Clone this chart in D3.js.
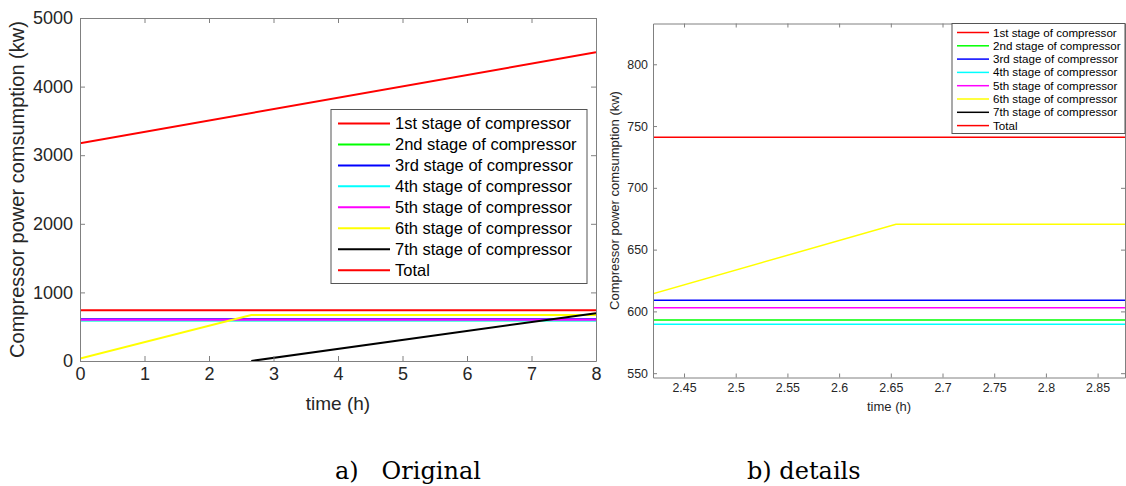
<!DOCTYPE html>
<html><head><meta charset="utf-8">
<script src="https://cdn.jsdelivr.net/npm/d3@7"></script>
<style>body{margin:0;background:#fff;} svg{display:block;}</style>
</head><body>
<svg id="c" width="1126" height="486"></svg>
<script>
// ---- data ----
const seriesNames = ["1st stage of compressor","2nd stage of compressor","3rd stage of compressor","4th stage of compressor","5th stage of compressor","6th stage of compressor","7th stage of compressor","Total"];
const seriesColors = ["#ff0000","#00ff00","#0000ff","#00ffff","#ff00ff","#ffff00","#000000","#ff0000"];
const stage1 = [[0,741],[8,741]];
const stage2 = [[0,593],[8,593]];
const stage3 = [[0,609],[8,609]];
const stage4 = [[0,589.5],[8,589.5]];
const stage5 = [[0,603],[8,603]];
const stage6 = [[0,36],[2.655,670.5],[8,670.5]];
const stage7 = [[2.655,0],[8,698]];
const total  = [[0,3175],[8,4500]];
const allSeries = [stage1,stage2,stage3,stage4,stage5,stage6,stage7,total];
const xTicksA = [0,1,2,3,4,5,6,7,8];
const yTicksA = [0,1000,2000,3000,4000,5000];
const xTicksB = [2.45,2.5,2.55,2.6,2.65,2.7,2.75,2.8,2.85];
const yTicksB = [550,600,650,700,750,800];
const captions = ["a)   Original","b) details"];

const svg = d3.select("#c");
const font = "'Liberation Sans', Arial, Helvetica, sans-serif";

function panel(opt){
  const g = svg.append("g");
  const x = d3.scaleLinear().domain(opt.xd).range([opt.x0,opt.x1]);
  const y = d3.scaleLinear().domain(opt.yd).range([opt.y1,opt.y0]);
  const clipId = "clip"+opt.id;
  svg.append("clipPath").attr("id",clipId).append("rect")
    .attr("x",opt.x0).attr("y",opt.y0).attr("width",opt.x1-opt.x0).attr("height",opt.y1-opt.y0);
  // lines
  const line = d3.line().x(d=>x(d[0])).y(d=>y(d[1]));
  const lg = g.append("g").attr("clip-path",`url(#${clipId})`);
  allSeries.forEach((s,i)=>{
    lg.append("path").attr("d",line(s)).attr("fill","none")
      .attr("stroke",seriesColors[i]).attr("stroke-width",opt.lw);
  });
  // axes (box, inward ticks)
  const ax = g.append("g").attr("font-family",font).attr("font-size",opt.tickFs).attr("fill","#262626");
  const axisStroke = "#808080";
  const bottom = d3.axisBottom(x).tickValues(opt.xt).tickSizeInner(-opt.tl).tickSizeOuter(0).tickPadding(opt.xpad).tickFormat(d3.format(opt.xfmt));
  const top = d3.axisTop(x).tickValues(opt.xt).tickSizeInner(-opt.tl).tickSizeOuter(0).tickFormat("");
  const left = d3.axisLeft(y).tickValues(opt.yt).tickSizeInner(-opt.tl).tickSizeOuter(0).tickPadding(opt.ypad).tickFormat(d3.format("d"));
  const right = d3.axisRight(y).tickValues(opt.yt).tickSizeInner(-opt.tl).tickSizeOuter(0).tickFormat("");
  [[bottom,`translate(0,${opt.y1})`],[top,`translate(0,${opt.y0})`],[left,`translate(${opt.x0},0)`],[right,`translate(${opt.x1},0)`]].forEach(([a,t])=>{
    const gg = g.append("g").attr("transform",t).call(a);
    gg.selectAll(".domain").attr("stroke",axisStroke).attr("stroke-width",1);
    gg.selectAll(".tick line").attr("stroke",axisStroke);
    gg.selectAll("text").attr("font-family",font).attr("font-size",opt.tickFs).attr("fill","#262626");
  });
  // labels
  g.append("text").attr("x",(opt.x0+opt.x1)/2+opt.xlDx).attr("y",opt.xlY).attr("text-anchor","middle")
    .attr("font-family",font).attr("font-size",opt.labFs).attr("fill","#262626").text("time (h)");
  g.append("text").attr("transform",`translate(${opt.ylX},${(opt.y0+opt.y1)/2}) rotate(-90)`)
    .attr("text-anchor","middle").attr("font-family",font).attr("font-size",opt.ylFs).attr("fill","#262626")
    .text("Compressor power comsumption (kw)");
  // legend
  const L = opt.leg;
  const lgd = g.append("g");
  lgd.append("rect").attr("x",L.x).attr("y",L.y).attr("width",L.w).attr("height",L.h)
    .attr("fill","#fff").attr("stroke","#555").attr("stroke-width",1);
  seriesNames.forEach((n,i)=>{
    const yy = L.r0 + i*L.dy;
    lgd.append("line").attr("x1",L.lx0).attr("x2",L.lx1).attr("y1",yy).attr("y2",yy)
      .attr("stroke",seriesColors[i]).attr("stroke-width",opt.lw);
    lgd.append("text").attr("x",L.tx).attr("y",yy).attr("dy","0.35em")
      .attr("font-family",font).attr("font-size",L.fs).attr("fill","#000").text(n);
  });
}

panel({id:"A", xd:[0,8], yd:[0,5000], x0:80, x1:596, y0:18, y1:361,
  xt:xTicksA, yt:yTicksA, xfmt:"d", tl:5, tickFs:18, xpad:6, ypad:7, lw:2,
  labFs:19, xlY:410, xlDx:0, ylFs:20, ylX:24,
  leg:{x:331,y:109.5,w:256,h:174,r0:123.5,dy:20.95,lx0:338,lx1:390,tx:395,fs:16.5}});

panel({id:"B", xd:[2.42,2.8765], yd:[546.5,833], x0:653, x1:1125, y0:23.5, y1:377.5,
  xt:xTicksB, yt:yTicksB, xfmt:"", tl:4, tickFs:12.4, xpad:6, ypad:5, lw:1.5,
  labFs:13, xlY:411, xlDx:0, ylFs:13, ylX:619,
  leg:{x:952,y:23.5,w:173,h:110,r0:32.5,dy:13.3,lx0:957,lx1:989,tx:993,fs:11.6}});

// captions
svg.append("text").attr("x",335).attr("y",479).attr("font-family","'DejaVu Serif', 'Liberation Serif', serif")
  .attr("font-size",24).attr("fill","#000").attr("xml:space","preserve").style("white-space","pre").text(captions[0]);
svg.append("text").attr("x",747).attr("y",479).attr("font-family","'DejaVu Serif', 'Liberation Serif', serif")
  .attr("font-size",24).attr("fill","#000").text(captions[1]);
</script>
</body></html>
